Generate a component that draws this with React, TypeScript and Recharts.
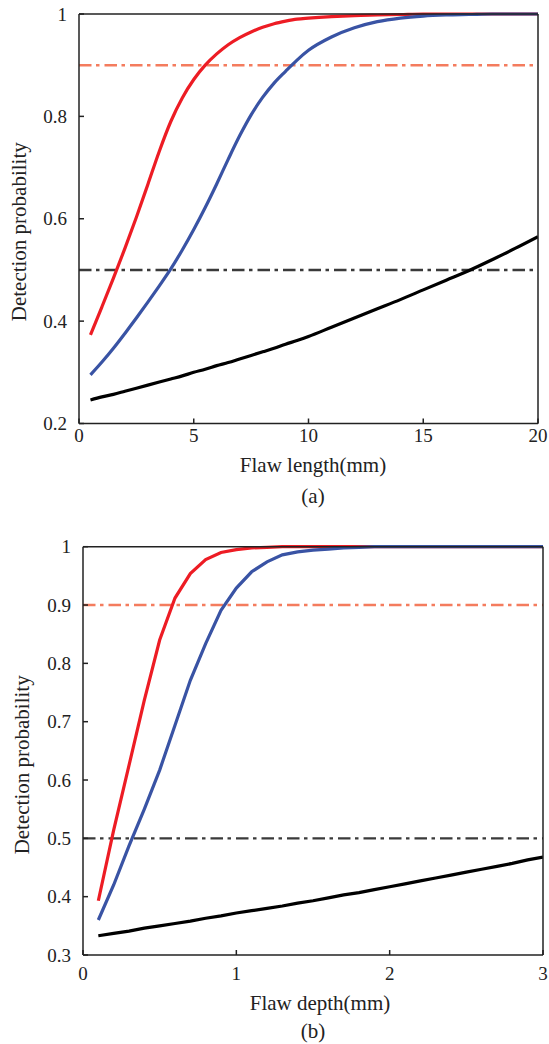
import React from 'react';
import { LineChart, Line, XAxis, YAxis, ReferenceLine } from 'recharts';

// (a) detection probability vs flaw length (mm)
const lengthX = [0.5, 1, 1.5, 2, 2.5, 3, 3.5, 4, 4.5, 5, 5.5, 6, 6.5, 7, 7.5, 8, 8.5, 9, 9.5, 10, 11, 12, 13, 14, 15, 16, 17, 18, 19, 20];
const lengthRed = [0.373, 0.428, 0.484, 0.542, 0.603, 0.667, 0.732, 0.79, 0.836, 0.872, 0.9, 0.922, 0.94, 0.954, 0.965, 0.974, 0.981, 0.986, 0.99, 0.992, 0.995, 0.997, 0.998, 0.999, 1, 1, 1, 1, 1, 1];
const lengthBlue = [0.295, 0.32, 0.347, 0.376, 0.406, 0.437, 0.469, 0.502, 0.539, 0.579, 0.622, 0.668, 0.716, 0.762, 0.803, 0.837, 0.865, 0.888, 0.91, 0.929, 0.955, 0.973, 0.985, 0.992, 0.996, 0.998, 0.999, 1, 1, 1];
const lengthBlack = [0.246, 0.252, 0.257, 0.263, 0.269, 0.275, 0.281, 0.287, 0.293, 0.3, 0.306, 0.313, 0.319, 0.326, 0.333, 0.34, 0.347, 0.355, 0.362, 0.37, 0.388, 0.406, 0.424, 0.442, 0.461, 0.48, 0.499, 0.52, 0.542, 0.565];
const lengthTicksX = [0, 5, 10, 15, 20];
const lengthTicksY = [0.2, 0.4, 0.6, 0.8, 1];

// (b) detection probability vs flaw depth (mm)
const depthX = [0.1, 0.2, 0.3, 0.4, 0.5, 0.6, 0.7, 0.8, 0.9, 1.0, 1.1, 1.2, 1.3, 1.4, 1.5, 1.6, 1.7, 1.8, 1.9, 2.0, 2.1, 2.2, 2.3, 2.4, 2.5, 2.6, 2.7, 2.8, 2.9, 3.0];
const depthRed = [0.393, 0.514, 0.625, 0.737, 0.84, 0.912, 0.954, 0.978, 0.99, 0.995, 0.998, 0.999, 1, 1, 1, 1, 1, 1, 1, 1, 1, 1, 1, 1, 1, 1, 1, 1, 1, 1];
const depthBlue = [0.36, 0.42, 0.487, 0.55, 0.617, 0.694, 0.771, 0.834, 0.891, 0.929, 0.957, 0.974, 0.986, 0.991, 0.994, 0.996, 0.998, 0.999, 1, 1, 1, 1, 1, 1, 1, 1, 1, 1, 1, 1];
const depthBlack = [0.333, 0.337, 0.341, 0.346, 0.35, 0.354, 0.358, 0.363, 0.367, 0.372, 0.376, 0.38, 0.384, 0.389, 0.393, 0.398, 0.403, 0.407, 0.412, 0.417, 0.422, 0.427, 0.432, 0.437, 0.442, 0.447, 0.452, 0.457, 0.463, 0.468];
const depthTicksX = [0, 1, 2, 3];
const depthTicksY = [0.3, 0.4, 0.5, 0.6, 0.7, 0.8, 0.9, 1];

const thresholdHigh = 0.9;
const thresholdMid = 0.5;

const FONT = '"Liberation Serif", "Times New Roman", serif';
const AXIS = '#222';
const DASH_DOT = '12.5 4.5 3.5 5';
const tickStyle = { fontFamily: FONT, fontSize: 19, fill: '#222' };
const titleStyle = { fontFamily: FONT, fontSize: 21, fill: '#222' };

const makeRows = (xs, red, blue, black) =>
  xs.map((x, i) => ({ x, red: red[i], blue: blue[i], black: black[i] }));

function Panel(p) {
  const data = makeRows(p.xs, p.red, p.blue, p.black);
  const xLabel = () => (
    <g>
      <text x={p.titleX} y={p.titleY} textAnchor="middle" style={titleStyle}>{p.xTitle}</text>
      <text x={p.capX} y={p.capY} textAnchor="middle" style={titleStyle}>{p.caption}</text>
    </g>
  );
  const yLabel = ({ viewBox }) => {
    const cy = viewBox.y + viewBox.height / 2 + p.yTitleShift;
    return (
      <text x={p.yTitleX} y={cy} transform={`rotate(-90 ${p.yTitleX} ${cy})`} textAnchor="middle" style={titleStyle}>
        Detection probability
      </text>
    );
  };
  return (
    <div style={{ position: 'absolute', left: 0, top: p.top }}>
      <LineChart width={549} height={p.height} data={data} margin={{ top: 0, right: 0, left: 0, bottom: 0 }}>
        <XAxis
          dataKey="x" type="number" domain={p.xDomain} ticks={p.xTicks} allowDataOverflow
          height={p.bottomH} tickSize={-5} tickMargin={p.xTickMargin}
          tick={tickStyle} stroke={AXIS} strokeWidth={1.5} label={{ content: xLabel }}
        />
        <XAxis
          xAxisId="top" orientation="top" dataKey="x" type="number" domain={p.xDomain} ticks={p.xTicks}
          height={p.topH} tickSize={-5} tick={false} stroke={AXIS} strokeWidth={1.5}
        />
        <YAxis
          type="number" domain={p.yDomain} ticks={p.yTicks} width={p.leftW} tickSize={-5} tickMargin={17}
          tick={tickStyle} stroke={AXIS} strokeWidth={1.5} label={{ content: yLabel }}
        />
        <YAxis
          yAxisId="right" orientation="right" type="number" domain={p.yDomain} ticks={p.yTicks}
          width={p.rightW} tickSize={-5} tick={false} stroke={AXIS} strokeWidth={1.5}
        />
        <ReferenceLine y={thresholdHigh} stroke="#f47c5e" strokeWidth={2.4} strokeDasharray={DASH_DOT} />
        <ReferenceLine y={thresholdMid} stroke="#3a3a3a" strokeWidth={2.4} strokeDasharray={DASH_DOT} />
        <Line type={p.curve} dataKey="black" stroke="#000" strokeWidth={3.2} dot={false} isAnimationActive={false} />
        <Line type={p.curve} dataKey="red" stroke="#ed1c24" strokeWidth={3.2} dot={false} isAnimationActive={false} />
        <Line type={p.curve} dataKey="blue" stroke="#3953a4" strokeWidth={3.2} dot={false} isAnimationActive={false} />
      </LineChart>
    </div>
  );
}

export default function App() {
  return (
    <div style={{ position: 'absolute', left: 0, top: 0, width: 549, height: 1044, background: '#fff' }}>
      <Panel
        top={0} height={520} topH={14} bottomH={96.5} leftW={79} rightW={11}
        xs={lengthX} red={lengthRed} blue={lengthBlue} black={lengthBlack}
        xDomain={[0, 20]} xTicks={lengthTicksX} yDomain={[0.2, 1]} yTicks={lengthTicksY}
        xTickMargin={10} curve="monotone"
        xTitle="Flaw length(mm)" titleX={313} titleY={472} caption="(a)" capX={313} capY={503}
        yTitleX={25.5} yTitleShift={13}
      />
      <Panel
        top={530} height={514} topH={16.7} bottomH={89} leftW={83} rightW={6}
        xs={depthX} red={depthRed} blue={depthBlue} black={depthBlack}
        xDomain={[0, 3]} xTicks={depthTicksX} yDomain={[0.3, 1]} yTicks={depthTicksY}
        xTickMargin={17} curve="linear"
        xTitle="Flaw depth(mm)" titleX={320} titleY={480} caption="(b)" capX={313} capY={508}
        yTitleX={29.5} yTitleShift={14}
      />
    </div>
  );
}
